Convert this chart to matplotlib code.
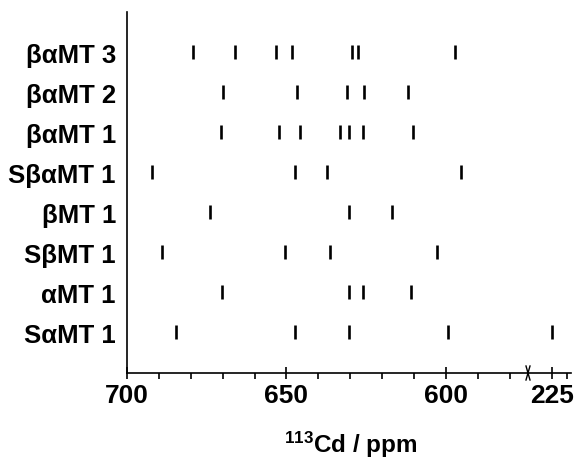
import matplotlib
matplotlib.use("Agg")
import matplotlib.pyplot as plt
from matplotlib.lines import Line2D

# ---- data (113Cd chemical shifts, ppm) ----
proteins = ["SαMT 1", "αMT 1", "SβMT 1", "βMT 1", "SβαMT 1", "βαMT 1", "βαMT 2", "βαMT 3"]
shifts_SaMT1 = [684.5, 647.2, 630.2, 599.3, 225.0]
shifts_aMT1 = [670.1, 630.2, 625.9, 611.0]
shifts_SbMT1 = [689.1, 650.5, 636.3, 602.6]
shifts_bMT1 = [674.1, 630.2, 616.8]
shifts_SbaMT1 = [692.2, 647.2, 637.2, 595.3]
shifts_baMT1 = [670.6, 652.2, 645.8, 633.1, 630.2, 625.9, 610.4]
shifts_baMT2 = [669.8, 646.6, 631.1, 625.6, 612.0]
shifts_baMT3 = [679.3, 666.0, 653.3, 648.1, 629.3, 627.6, 597.1]
all_shifts = [shifts_SaMT1, shifts_aMT1, shifts_SbMT1, shifts_bMT1,
              shifts_SbaMT1, shifts_baMT1, shifts_baMT2, shifts_baMT3]

left_ticks = [700, 650, 600]
right_ticks = [225]

plt.rcParams['font.family'] = ['Liberation Sans', 'DejaVu Sans']
plt.rcParams['mathtext.default'] = 'regular'

W, H = 577, 460
fig = plt.figure(figsize=(W / 100, H / 100), dpi=100)

x0, xb, x1 = 127, 528, 571
ybot, ytop = 374, 13
bottom = 1 - ybot / H
height = (ybot - ytop) / H
axL = fig.add_axes([x0 / W, bottom, (xb - x0) / W, height])
axR = fig.add_axes([xb / W, bottom, (x1 - xb) / W, height], sharey=axL)

for ax in (axL, axR):
    ax.eventplot(all_shifts, lineoffsets=range(len(all_shifts)), linelengths=0.36,
                 linewidths=1.9, colors='black')
    ax.spines['top'].set_visible(False)
    ax.spines['right'].set_visible(False)
    ax.spines['bottom'].set_linewidth(1.2)
    ax.spines['left'].set_linewidth(1.2)
    ax.tick_params(axis='x', which='major', direction='inout', length=9, width=1.2,
                   labelsize=19, pad=3)
    ax.tick_params(axis='x', which='minor', direction='out', length=4, width=1.2)

axL.set_xlim(700, 574.2)
axR.set_xlim(232.4, 218.9)
axL.set_ylim(-1.02, 8.0)

axL.set_xticks(left_ticks)
axL.set_xticks(range(690, 575, -10), minor=True)
axR.set_xticks(right_ticks)
axR.set_xticks([220], minor=True)
for ax in (axL, axR):
    for lbl in ax.get_xticklabels():
        lbl.set_fontweight('bold')

axL.set_yticks(range(len(proteins)))
axL.set_yticklabels(proteins, fontsize=18.5, fontweight='bold')
axL.tick_params(axis='y', length=0, pad=8)
axR.spines['left'].set_visible(False)
axR.tick_params(axis='y', left=False, labelleft=False)

# break mark
bx, by = xb, ybot
for dx in (-2, 2):
    fig.add_artist(Line2D([(bx + dx) / W, (bx - dx) / W],
                          [1 - (by - 7) / H, 1 - (by + 7) / H],
                          color='black', lw=1.0, transform=fig.transFigure))

fig.text(351 / W, 1 - 445 / H, r"$^{113}$Cd / ppm", ha='center', va='center',
         fontsize=17.5, fontweight='bold')

fig.savefig("out.png", dpi=100, facecolor='white')
